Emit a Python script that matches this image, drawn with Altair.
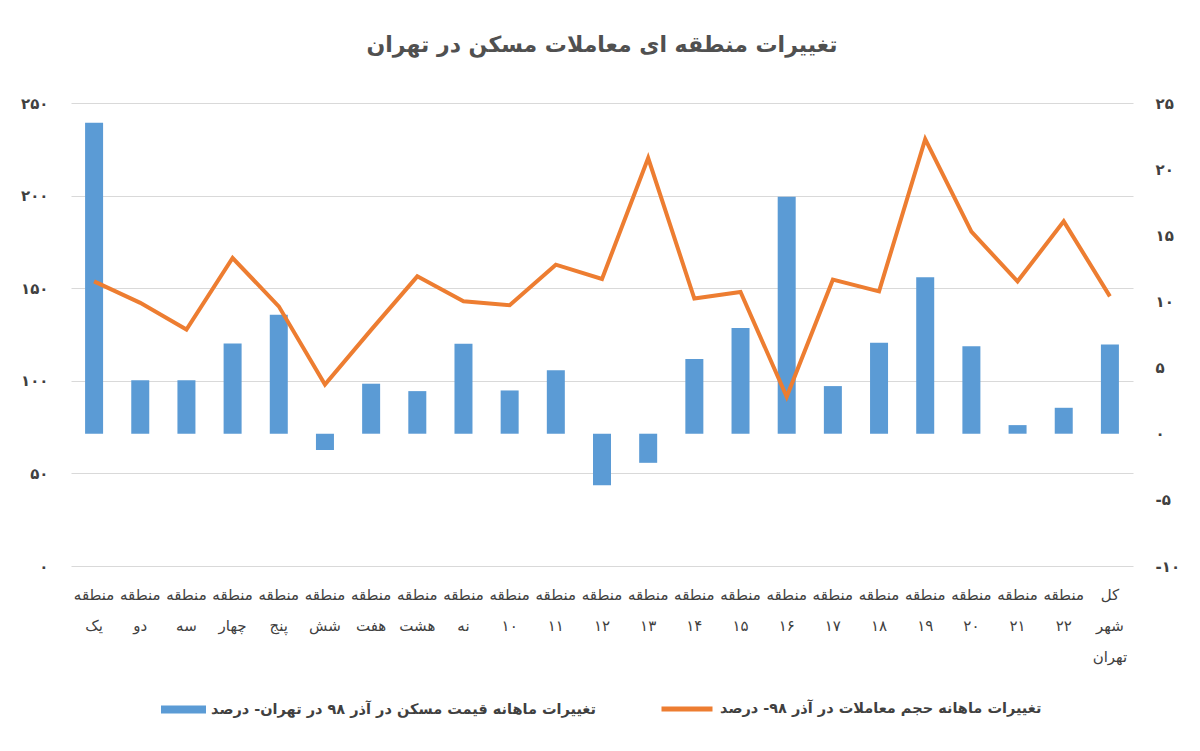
import altair as alt
import pandas as pd

# ---------------- data ----------------
categories = [
    "منطقه یک", "منطقه دو", "منطقه سه", "منطقه چهار", "منطقه پنج", "منطقه شش",
    "منطقه هفت", "منطقه هشت", "منطقه نه", "منطقه ۱۰", "منطقه ۱۱", "منطقه ۱۲",
    "منطقه ۱۳", "منطقه ۱۴", "منطقه ۱۵", "منطقه ۱۶", "منطقه ۱۷", "منطقه ۱۸",
    "منطقه ۱۹", "منطقه ۲۰", "منطقه ۲۱", "منطقه ۲۲", "کل شهر تهران",
]
# monthly price change (%) - bars, right axis
price_change = [23.5, 4.05, 4.05, 6.82, 8.99, -1.24, 3.78, 3.22, 6.80, 3.27, 4.80, -3.9,
                -2.2, 5.64, 8.0, 17.92, 3.6, 6.87, 11.83, 6.62, 0.65, 1.96, 6.74]
# monthly transaction volume change - line, left axis
volume_change = [153.7, 142.1, 127.7, 166.3, 140.2, 98.0, 127.5, 156.4, 142.9, 140.8, 162.7, 155.0,
                 220.3, 144.4, 148.0, 91.4, 154.6, 148.3, 230.5, 180.5, 153.7, 186.1, 145.6]

left_ticks = [0, 50, 100, 150, 200, 250]
left_tick_labels = ["۰", "۵۰", "۱۰۰", "۱۵۰", "۲۰۰", "۲۵۰"]
right_ticks = [-10, -5, 0, 5, 10, 15, 20, 25]
right_tick_labels = ["-۱۰", "-۵", "۰", "۵", "۱۰", "۱۵", "۲۰", "۲۵"]

title_text = "تغییرات منطقه ای معاملات مسکن در تهران"
bar_series = "تغییرات ماهانه قیمت مسکن در آذر ۹۸ در تهران- درصد"
line_series = "تغییرات ماهانه حجم معاملات در آذر ۹۸- درصد"

df = pd.DataFrame({
    "cat": categories,
    "price": price_change,
    "volume": volume_change,
    "bar_series": [bar_series] * len(categories),
    "line_series": [line_series] * len(categories),
})


def label_expr(values, labels):
    parts = [f"datum.value == {v} ? '{l}'" for v, l in zip(values, labels)]
    return " : ".join(parts) + " : ''"


FONT = "DejaVu Sans"
TXT = "#404040"

x_enc = alt.X(
    "cat:N", sort=categories,
    scale=alt.Scale(paddingInner=0, paddingOuter=0),
    axis=alt.Axis(title=None, labelAngle=0, labelExpr="split(datum.label, ' ')",
                  ticks=False, domain=False, labelPadding=21, labelLineHeight=31,
                  labelFont=FONT, labelFontSize=15, labelColor=TXT, labelOverlap=False,
                  labelBaseline="top"),
)

bars = alt.Chart(df).mark_bar(size=18, color="#5B9BD5").encode(
    x=x_enc,
    y=alt.Y("price:Q", scale=alt.Scale(domain=[-10, 25], nice=False, zero=False),
            axis=alt.Axis(orient="right", values=right_ticks,
                          labelExpr=label_expr(right_ticks, right_tick_labels),
                          grid=False, ticks=False, domain=False, title=None,
                          labelPadding=22, labelFont=FONT, labelFontSize=15,
                          labelFontWeight="bold", labelColor=TXT)),
    color=alt.Color("bar_series:N", scale=alt.Scale(range=["#5B9BD5"]),
                    legend=alt.Legend(orient="none", legendX=90, legendY=584, title=None,
                                      symbolType="M-1,-0.18H1V0.18H-1Z", symbolSize=2025,
                                      symbolStrokeWidth=0, labelFont=FONT, labelFontSize=14.5,
                                      labelFontWeight="bold", labelColor=TXT, labelLimit=600,
                                      padding=0, labelOffset=5)),
)

line = alt.Chart(df).mark_line(color="#ED7D31", strokeWidth=4, strokeJoin="miter").encode(
    x=x_enc,
    y=alt.Y("volume:Q", scale=alt.Scale(domain=[0, 250], nice=False),
            axis=alt.Axis(orient="left", values=left_ticks,
                          labelExpr=label_expr(left_ticks, left_tick_labels),
                          grid=True, gridColor="#D9D9D9", gridWidth=1, ticks=False,
                          domain=False, title=None, labelPadding=23, labelFont=FONT,
                          labelFontSize=15, labelFontWeight="bold", labelColor=TXT)),
    color=alt.Color("line_series:N", scale=alt.Scale(range=["#ED7D31"]),
                    legend=alt.Legend(orient="none", legendX=588, legendY=578, title=None,
                                      symbolType="stroke", symbolSize=2601,
                                      symbolStrokeWidth=5, labelFont=FONT, labelFontSize=14.5,
                                      labelFontWeight="bold", labelColor=TXT, labelLimit=600,
                                      padding=0, labelOffset=5)),
)

chart = alt.layer(bars, line).resolve_scale(
    y="independent", color="independent"
).resolve_legend(color="independent").properties(
    width=1062, height=463,
    background="white",
    title=alt.TitleParams(title_text, font=FONT, fontSize=22, fontWeight="bold",
                          color="#505050", anchor="middle", offset=39),
    autosize=alt.AutoSizeParams(type="none"),
    padding={"left": 63, "top": 95, "right": 59, "bottom": 175},
).configure_view(stroke=None)

chart.save("out.html", embed_options={"renderer": "svg", "actions": False})
